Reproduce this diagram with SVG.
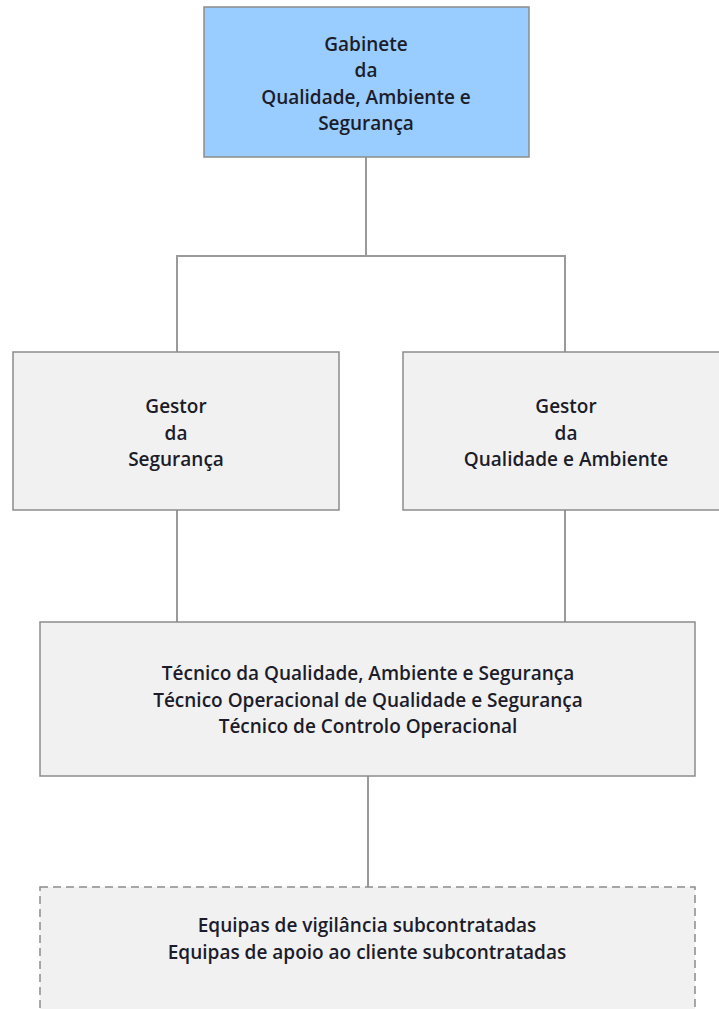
<svg xmlns="http://www.w3.org/2000/svg" width="719" height="1009" viewBox="0 0 719 1009">
<style>
.box{fill:#f1f1f1;stroke:#8c8c8c;stroke-width:1.5}
.top{fill:#99ccff}
.dash{stroke-dasharray:8 5}
.conn{stroke:#9a9a9a;stroke-width:2;fill:none}
text{font-family:"Open Sans","Liberation Sans",sans-serif;font-size:19px;font-weight:600;fill:#1c1c2a;text-anchor:middle}
</style>
<rect width="719" height="1009" fill="#ffffff"/>
<g id="connectors">
<path class="conn" d="M366 157V256M177 352V256H565V352"/>
<path class="conn" d="M177 510V622M565 510V622"/>
<path class="conn" d="M368 776V887"/>
</g>
<g id="gabinete">
<rect class="box top" x="204" y="7" width="325" height="150"/>
<text x="366" y="51">Gabinete</text>
<text x="366" y="77">da</text>
<text x="366" y="104">Qualidade, Ambiente e</text>
<text x="366" y="130">Segurança</text>
</g>
<g id="gestor-seguranca">
<rect class="box" x="13" y="352" width="326" height="158"/>
<text x="176" y="413">Gestor</text>
<text x="176" y="440">da</text>
<text x="176" y="466">Segurança</text>
</g>
<g id="gestor-qualidade">
<rect class="box" x="403" y="352" width="330" height="158"/>
<text x="566" y="413">Gestor</text>
<text x="566" y="440">da</text>
<text x="566" y="466">Qualidade e Ambiente</text>
</g>
<g id="tecnicos">
<rect class="box" x="40" y="622" width="655" height="154"/>
<text x="368" y="680">Técnico da Qualidade, Ambiente e Segurança</text>
<text x="368" y="707">Técnico Operacional de Qualidade e Segurança</text>
<text x="368" y="733">Técnico de Controlo Operacional</text>
</g>
<g id="equipas">
<rect class="box dash" x="40" y="887" width="655" height="140"/>
<text x="367" y="932">Equipas de vigilância subcontratadas</text>
<text x="367" y="959">Equipas de apoio ao cliente subcontratadas</text>
</g>
</svg>
